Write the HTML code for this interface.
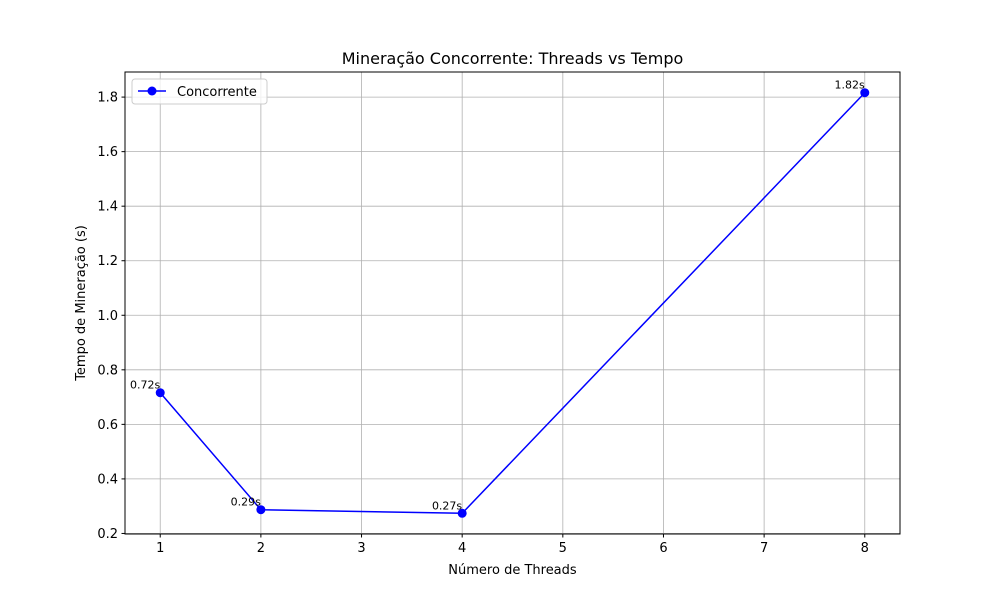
<!DOCTYPE html>
<html><head><meta charset="utf-8"><style>
body{margin:0;background:#fff;font-family:"Liberation Sans","DejaVu Sans",sans-serif;}
svg text{font-family:"DejaVu Sans","Liberation Sans",sans-serif;}
</style></head><body>
<svg id="chart" width="1000" height="600" xmlns="http://www.w3.org/2000/svg">
<rect width="1000" height="600" fill="#fff"/>
<g id="grid"></g>
<g id="ticks"></g>
<g id="series"></g>
<rect x="125" y="72" width="775" height="462" fill="none" stroke="#000" stroke-width="1"/>
<text x="512.5" y="64" font-size="16" text-anchor="middle">Mineração Concorrente: Threads vs Tempo</text>
<text x="512.5" y="574" font-size="13" text-anchor="middle">Número de Threads</text>
<text transform="translate(85,303) rotate(-90)" font-size="13" text-anchor="middle">Tempo de Mineração (s)</text>
<g>
<rect x="132" y="79" width="135" height="25" rx="3" fill="#fff" fill-opacity="0.8" stroke="#ccc"/>
<line x1="138" y1="91" x2="166" y2="91" stroke="#0000ff" stroke-width="1.5"/>
<circle cx="152" cy="91" r="4.5" fill="#0000ff"/>
<text x="177" y="96" font-size="13">Concorrente</text>
</g>
</svg>
<script>
const threads=[1,2,4,8];
const times=[0.716,0.287,0.274,1.816];
const xTicks=[1,2,3,4,5,6,7,8];
const yTicks=[0.2,0.4,0.6,0.8,1.0,1.2,1.4,1.6,1.8];
const L=125,R=900,T=72,B=534,xmin=0.65,xmax=8.35,ymin=0.198,ymax=1.892;
const X=v=>L+(v-xmin)/(xmax-xmin)*(R-L);
const Y=v=>B-(v-ymin)/(ymax-ymin)*(B-T);
const NS="http://www.w3.org/2000/svg";
function mk(tag,attrs,parent){const e=document.createElementNS(NS,tag);for(const k in attrs)e.setAttribute(k,attrs[k]);parent.appendChild(e);return e;}
const g=document.getElementById('grid'),tk=document.getElementById('ticks'),s=document.getElementById('series');
xTicks.forEach(v=>{const x=X(v);
 const gl=mk('line',{x1:x,y1:T,x2:x,y2:B,stroke:'#b0b0b0','stroke-width':0.8},g);
 
 mk('line',{x1:x,y1:B,x2:x,y2:B+3.5,stroke:'#000'},tk);
 const t=mk('text',{x:x,y:B+18,'font-size':13,'text-anchor':'middle'},tk);t.textContent=v;
 });
yTicks.forEach(v=>{const y=Y(v);
 const gl=mk('line',{x1:L,y1:y,x2:R,y2:y,stroke:'#b0b0b0','stroke-width':0.8},g);
 
 mk('line',{x1:L-3.5,y1:y,x2:L,y2:y,stroke:'#000'},tk);
 const t=mk('text',{x:L-7,y:y+4.5,'font-size':13,'text-anchor':'end'},tk);t.textContent=v.toFixed(1);
 });
const pl=mk('polyline',{points:threads.map((v,i)=>X(v)+','+Y(times[i])).join(' '),fill:'none',stroke:'#0000ff','stroke-width':1.5},s);

threads.forEach((v,i)=>{
 const c=mk('circle',{cx:X(v),cy:Y(times[i]),r:4.5,fill:'#0000ff'},s);
 
 const t=mk('text',{x:X(v),y:Y(times[i])-4,'font-size':11,'text-anchor':'end'},s);
 t.textContent=times[i].toFixed(2)+'s';
 });
</script>
</body></html>
